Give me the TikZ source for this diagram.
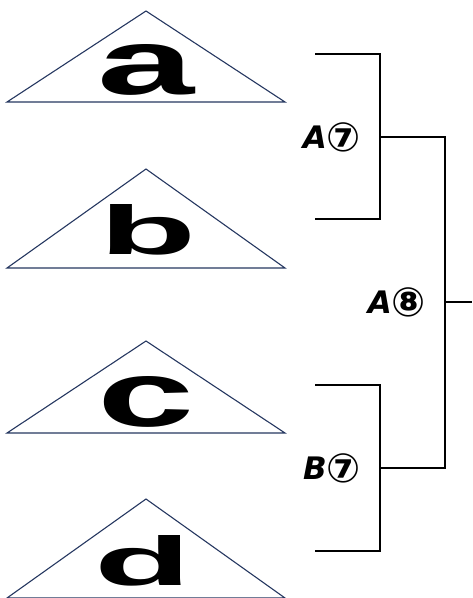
\documentclass[tikz,border=0pt]{standalone}
\usepackage{fontspec}
\usepackage{graphicx}
\setmainfont{Liberation Sans}
\newfontfamily\roundfont{DejaVu Sans}
\usetikzlibrary{positioning}
\definecolor{trinavy}{HTML}{253760}
\newcommand{\seed}[1]{\raisebox{-0.08em}{\scalebox{1.3}{#1}}}
\tikzset{tri/.style={draw=trinavy, line width=1.1pt, line join=miter}}
\tikzset{leaf/.style={inner sep=0pt, font=\bfseries}}
\tikzset{match/.style={inner sep=0pt, font=\roundfont\bfseries\fontsize{31}{31}\selectfont}}
\tikzset{bracket/.style={draw=black, line width=1.7pt, line join=miter}}

\begin{document}
\begin{tikzpicture}[x=1pt,y=-1pt]
  \useasboundingbox (0,0) rectangle (472,598);

  % teams, apex y / base y
  \foreach \ty/\by in {11/102,169/268,341/433,499/598}
    \draw[tri] (7,\by) -- (146,\ty) -- (285,\by) -- cycle;

  \node[leaf] (ta) at (146,70) {\resizebox{97pt}{50pt}{a}};
  \node[leaf] (tb) at (148,230) {\resizebox{97pt}{50pt}{b}};
  \node[leaf] (tc) at (146,402) {\resizebox{97pt}{50pt}{c}};
  \node[leaf] (td) at (143,561) {\resizebox{97pt}{50pt}{d}};

  % bracket ends and joints
  \coordinate (a7top) at (315,54);
  \coordinate (a7bot) at (315,219);
  \coordinate (b7top) at (315,385);
  \coordinate (b7bot) at (315,551);
  \coordinate (j7a) at (380,137);
  \coordinate (j7b) at (380,468);
  \coordinate (j8) at (445,302);
  \coordinate (win) at (472,302);

  \draw[bracket] (a7top) -| (j7a) |- (a7bot);
  \draw[bracket] (b7top) -| (j7b) |- (b7bot);
  \draw[bracket] (j7a) -| (j8) |- (j7b);
  \draw[bracket] (j8) -- (win);

  \node[match] (ma7) at (332,137) {\textit{A}\seed{⑦}};
  \node[match] (ma8) at (397,302) {\textit{A}\seed{⑧}};
  \node[match] (mb7) at (332,468) {\textit{B}\seed{⑦}};
\end{tikzpicture}
\end{document}
